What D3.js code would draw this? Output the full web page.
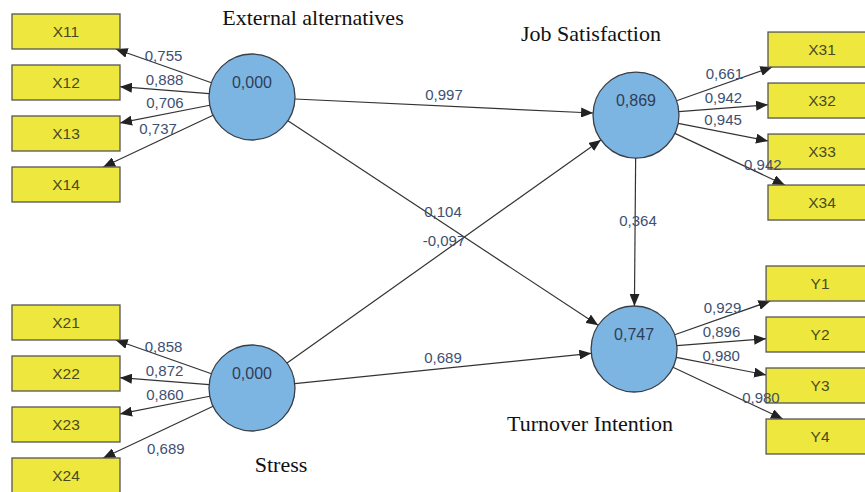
<!DOCTYPE html>
<html>
<head>
<meta charset="utf-8">
<script src="https://cdn.jsdelivr.net/npm/d3@7"></script>
<style>
  body { margin: 0; background: #fff; }
  svg { display: block; }
</style>
</head>
<body>
<div id="chart-area"></div>
<script>
// latent variables and their R² values
const constructs = ["External alternatives", "Stress", "Job Satisfaction", "Turnover Intention"];
const r2Values = [0.000, 0.000, 0.869, 0.747];

// indicators (reflective) and outer loadings
const indicators = [
  ["X11", "X12", "X13", "X14"],
  ["X21", "X22", "X23", "X24"],
  ["X31", "X32", "X33", "X34"],
  ["Y1", "Y2", "Y3", "Y4"]
];
const loadings = [
  [0.755, 0.888, 0.706, 0.737],
  [0.858, 0.872, 0.860, 0.689],
  [0.661, 0.942, 0.945, 0.942],
  [0.929, 0.896, 0.980, 0.980]
];

// inner model: from, to, coefficient
const pathFrom = [0, 0, 1, 1, 2];
const pathTo   = [2, 3, 2, 3, 3];
const pathCoef = [0.997, 0.104, -0.097, 0.689, 0.364];

// ---- layout (diagram units 0..1) ----
const W = 865, H = 492;
const nodeGX = [0, 0, 1, 0.995];
const nodeGY = [0, 1, 0.062, 0.866];
const side   = [-1, -1, 1, 1];               // indicators left or right
const titleDX = [61, 29, -45, -44];          // title offsets from circle centre
const titleDY = [-72, 84, -74, 82];
// per-indicator label position along the arrow (t) and vertical offset
const lblT  = [[.5,.5,.5,.5],[.5,.5,.5,.43],[.5,.5,.5,.8],[.5,.5,.5,.8]];
const lblDY = [[-10,-10,-11,-12],[-10,-10,-10,20],[-10,-10,-12,-10],[-10,-10,-10,-11]];

const R = 43, boxW = 108, boxH = 35, boxGap = 51, boxDX = 186, boxDY = 11;

const x = d3.scaleLinear().domain([0, 1]).range([252, 636]);
const y = d3.scaleLinear().domain([0, 1]).range([97, 388]);
const fmt = v => d3.format(".3f")(v).replace(".", ",").replace("−", "-");

const svg = d3.select("#chart-area")
  .append("svg")
    .attr("width", W)
    .attr("height", H);

svg.append("defs").append("marker")
    .attr("id", "arrow")
    .attr("markerUnits", "userSpaceOnUse")
    .attr("viewBox", "0 0 12 10")
    .attr("refX", 12).attr("refY", 5)
    .attr("markerWidth", 12).attr("markerHeight", 10)
    .attr("orient", "auto")
  .append("path")
    .attr("d", "M0,0L12,5L0,10Z")
    .attr("fill", "#222");

const nodes = constructs.map((c, i) => ({ name: c, cx: x(nodeGX[i]), cy: y(nodeGY[i]), i }));

// boxes
const boxes = [];
nodes.forEach(n => {
  indicators[n.i].forEach((lab, j) => {
    boxes.push({
      lab, j, n,
      cx: n.cx + side[n.i] * boxDX,
      cy: n.cy + boxDY + (j - 1.5) * boxGap,
      val: loadings[n.i][j]
    });
  });
});

const lineG = svg.append("g");
const labelG = svg.append("g");

function clipBox(bx, by, tx, ty) {
  const dx = tx - bx, dy = ty - by;
  const t = Math.min((boxW / 2) / Math.abs(dx || 1e-9), (boxH / 2) / Math.abs(dy || 1e-9));
  return [bx + dx * t, by + dy * t];
}

// outer model arrows
boxes.forEach(b => {
  const n = b.n;
  const dx = b.cx - n.cx, dy = b.cy - n.cy, len = Math.hypot(dx, dy);
  const x1 = n.cx + dx / len * R, y1 = n.cy + dy / len * R;
  const [x2, y2] = clipBox(b.cx, b.cy, n.cx, n.cy);
  lineG.append("line")
    .attr("x1", x1).attr("y1", y1).attr("x2", x2).attr("y2", y2)
    .attr("stroke", "#333").attr("stroke-width", 1.2)
    .attr("marker-end", "url(#arrow)");
  const t = lblT[n.i][b.j];
  labelG.append("text")
    .attr("x", x1 + (x2 - x1) * t)
    .attr("y", y1 + (y2 - y1) * t + lblDY[n.i][b.j])
    .attr("dy", "0.35em")
    .attr("text-anchor", "middle")
    .attr("class", "coef")
    .text(fmt(b.val));
});

// inner model arrows
pathCoef.forEach((c, k) => {
  const a = nodes[pathFrom[k]], b = nodes[pathTo[k]];
  const dx = b.cx - a.cx, dy = b.cy - a.cy, len = Math.hypot(dx, dy);
  const x1 = a.cx + dx / len * R, y1 = a.cy + dy / len * R;
  const x2 = b.cx - dx / len * R, y2 = b.cy - dy / len * R;
  lineG.append("line")
    .attr("x1", x1).attr("y1", y1).attr("x2", x2).attr("y2", y2)
    .attr("stroke", "#333").attr("stroke-width", 1.2)
    .attr("marker-end", "url(#arrow)");
  labelG.append("text")
    .attr("x", (x1 + x2) / 2 + (Math.abs(dx) < 5 ? 3 : 0))
    .attr("y", (y1 + y2) / 2 - 11)
    .attr("dy", "0.35em")
    .attr("text-anchor", "middle")
    .attr("class", "coef")
    .text(fmt(c));
});

labelG.selectAll(".coef")
  .style("font-family", "Liberation Sans, Arial, sans-serif")
  .style("font-size", "15px")
  .attr("fill", "#3d4f72");

// indicator boxes
const boxG = svg.selectAll(".box")
  .data(boxes)
  .enter()
  .append("g");
boxG.append("rect")
  .attr("x", d => d.cx - boxW / 2)
  .attr("y", d => d.cy - boxH / 2)
  .attr("width", boxW)
  .attr("height", boxH)
  .attr("fill", "#eee83e")
  .attr("stroke", "#555")
  .attr("stroke-width", 1.3);
boxG.append("text")
  .attr("x", d => d.cx)
  .attr("y", d => d.cy)
  .attr("dy", "0.36em")
  .attr("text-anchor", "middle")
  .style("font-family", "Liberation Sans, Arial, sans-serif")
  .style("font-size", "15.5px")
  .attr("fill", "#4a4a22")
  .text(d => d.lab);

// latent circles
const nodeG = svg.selectAll(".node")
  .data(nodes)
  .enter()
  .append("g");
nodeG.append("circle")
  .attr("cx", d => d.cx)
  .attr("cy", d => d.cy)
  .attr("r", R)
  .attr("fill", "#7db5e2")
  .attr("stroke", "#3a3f47")
  .attr("stroke-width", 1.3);
nodeG.append("text")
  .attr("x", d => d.cx)
  .attr("y", d => d.cy - 15)
  .attr("dy", "0.36em")
  .attr("text-anchor", "middle")
  .style("font-family", "Liberation Sans, Arial, sans-serif")
  .style("font-size", "16px")
  .attr("fill", "#2f3d58")
  .text(d => fmt(r2Values[d.i]));
nodeG.append("text")
  .attr("x", d => d.cx + titleDX[d.i])
  .attr("y", d => d.cy + titleDY[d.i])
  .attr("text-anchor", "middle")
  .style("font-family", "Liberation Serif, Times New Roman, serif")
  .style("font-size", "22px")
  .attr("fill", "#111")
  .text(d => d.name);

// coefficient labels sit on top of boxes and lines
labelG.raise();
</script>
</body>
</html>
